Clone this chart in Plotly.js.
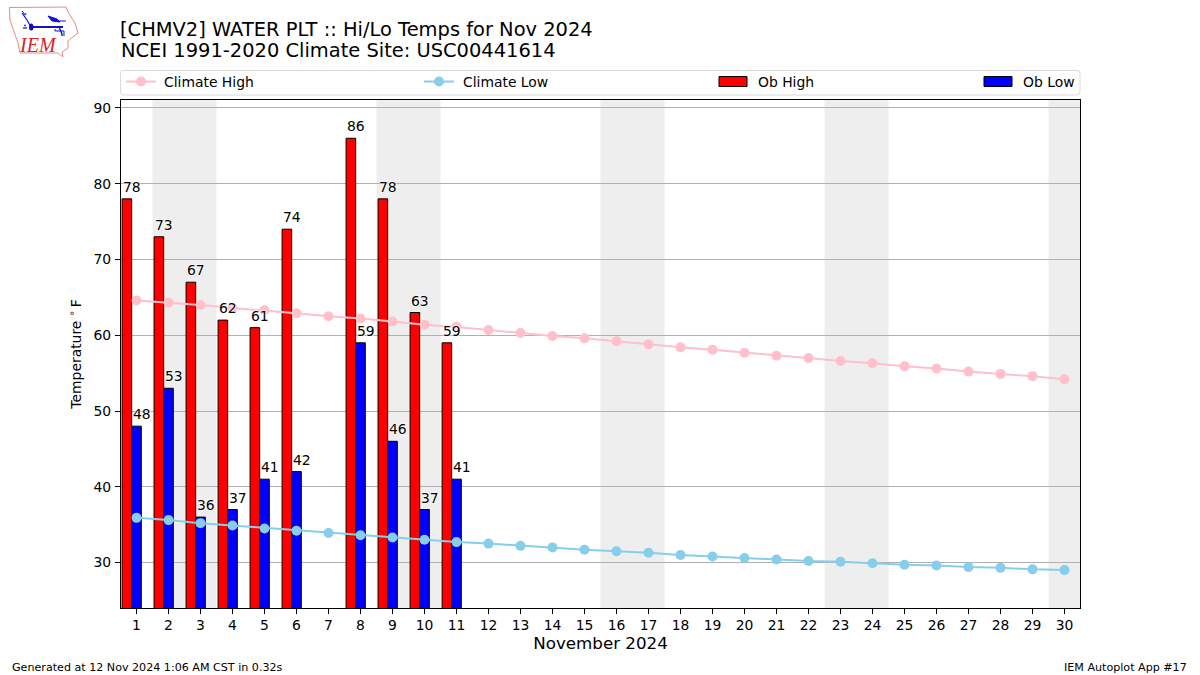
<!DOCTYPE html>
<html>
<head>
<meta charset="utf-8">
<script src="https://cdn.plot.ly/plotly-3.0.1.min.js"></script>
<style>html,body{margin:0;padding:0;background:#fff}#chart{width:1200px;height:675px}</style>
</head>
<body>
<div id="chart"></div>
<script>
var days = [1,2,3,4,5,6,7,8,9,10,11,12,13,14,15,16,17,18,19,20,21,22,23,24,25,26,27,28,29,30];
var obHigh = [78,73,67,62,61,74,null,86,78,63,59];
var obLow = [48,53,36,37,41,42,null,59,46,37,41];
var climateHigh = [64.6,64.3,64.0,63.6,63.3,62.9,62.5,62.2,61.8,61.4,61.1,60.7,60.3,59.9,59.6,59.2,58.8,58.4,58.1,57.7,57.3,57.0,56.6,56.3,55.9,55.6,55.2,54.9,54.6,54.2];
var climateLow = [35.9,35.6,35.2,34.9,34.5,34.2,33.9,33.6,33.3,33.0,32.7,32.5,32.2,32.0,31.7,31.5,31.3,31.0,30.8,30.6,30.4,30.2,30.1,29.9,29.7,29.6,29.4,29.3,29.1,29.0];
var weekends = [[1.5,3.5],[8.5,10.5],[15.5,17.5],[22.5,24.5],[29.5,30.5]];
var yTicks = [30,40,50,60,70,80,90];
var titleLine1 = "[CHMV2] WATER PLT :: Hi/Lo Temps for Nov 2024";
var titleLine2 = "NCEI 1991-2020 Climate Site: USC00441614";

var FONT = "DejaVu Sans, sans-serif";
var W = 1200, H = 675, L = 121, R = 1080, T = 100, B = 608;
function px(x){ return (x - L) / (R - L); }
function py(y){ return (B - y) / (B - T); }
function pathOf(pts, close){
  return pts.map(function(p,i){ return (i ? "L" : "M") + px(p[0]).toFixed(5) + "," + py(p[1]).toFixed(5); }).join(" ") + (close ? " Z" : "");
}
function paperLine(pts, color, width, close, fill){
  return {type:"path", xref:"paper", yref:"paper", path:pathOf(pts, close), layer:"above",
          line:{color:color, width:width}, fillcolor: fill || "rgba(0,0,0,0)"};
}
function arcBox(x0,y0,x1,y1,r){
  var f = function(x,y){ return px(x).toFixed(5)+","+py(y).toFixed(5); };
  return "M"+f(x0+r,y0)+" L"+f(x1-r,y0)+" Q"+f(x1,y0)+" "+f(x1,y0+r)+" L"+f(x1,y1-r)+" Q"+f(x1,y1)+" "+f(x1-r,y1)+
         " L"+f(x0+r,y1)+" Q"+f(x0,y1)+" "+f(x0,y1-r)+" L"+f(x0,y0+r)+" Q"+f(x0,y0)+" "+f(x0+r,y0)+" Z";
}

var barWidth = 0.3, highOffset = -0.45, lowOffset = -0.15;
function edge(){ return {color:"#000", width:1}; }

var traces = [
  {type:"bar", name:"Ob High", x:days.slice(0,obHigh.length), y:obHigh, width:barWidth, offset:highOffset,
   marker:{color:"#ff0000", line:edge()}, legend:"legend3", hoverinfo:"x+y"},
  {type:"bar", name:"Ob Low", x:days.slice(0,obLow.length), y:obLow, width:barWidth, offset:lowOffset,
   marker:{color:"#0000ff", line:edge()}, legend:"legend4", hoverinfo:"x+y"},
  {type:"scatter", mode:"lines+markers", name:"Climate High", x:days, y:climateHigh,
   line:{color:"#ffc0cb", width:2}, marker:{color:"#ffc0cb", size:10}, legend:"legend"},
  {type:"scatter", mode:"lines+markers", name:"Climate Low", x:days, y:climateLow,
   line:{color:"#87ceeb", width:2}, marker:{color:"#87ceeb", size:10}, legend:"legend2"}
];

function barLabel(day, value, off){
  return {xref:"x", yref:"y", x:day+off, y:value, text:String(value), showarrow:false, xanchor:"left", yanchor:"bottom",
          yshift:2, xshift:-1, font:{family:FONT, size:13.9, color:"#000", shadow:"0 0 2px #fff, 0 0 2px #fff, 0 0 2px #fff"}};
}
var annotations = [];
obHigh.forEach(function(v,i){ if(v!==null) annotations.push(barLabel(days[i], v, highOffset)); });
obLow.forEach(function(v,i){ if(v!==null) annotations.push(barLabel(days[i], v, lowOffset)); });
function pageText(x,y,text,size,anchor,color,extra){
  var a = {xref:"paper", yref:"paper", x:px(x), y:py(y), text:text, showarrow:false, xanchor:anchor, yanchor:"middle",
           font:{family:FONT, size:size, color:color||"#000"}, borderpad:0};
  if(extra) for(var k in extra) a[k]=extra[k];
  return a;
}
annotations.push(pageText(119.5,51,titleLine2,19.44,"left"));
annotations.push(pageText(11,667,"Generated at 12 Nov 2024 1:06 AM CST in 0.32s",11.12,"left"));
annotations.push(pageText(1188,667,"IEM Autoplot App #17",11.12,"right"));
annotations.push({xref:"paper", yref:"paper", x:px(37.5), y:py(45.5), text:"<i>IEM</i>", showarrow:false, xanchor:"center", yanchor:"middle",
                  font:{family:"Liberation Serif, serif", size:20, color:"#d8232a"}, borderpad:0});

var shapes = weekends.map(function(w){
  return {type:"rect", xref:"x", yref:"paper", x0:w[0], x1:w[1], y0:0, y1:1, layer:"below", fillcolor:"#eeeeee", line:{width:0}};
});
// legend frame
shapes.push({type:"path", xref:"paper", yref:"paper", path:arcBox(120.5,70.5,1080,95,3), layer:"above", line:{color:"#d9d9d9", width:1}, fillcolor:"rgba(255,255,255,0)"});
// logo
shapes.push(paperLine([[9.5,7.5],[66,7],[68,12],[75,23],[78,33],[68,41],[68,48],[62,52],[63,57],[58,53],[20,53],[18,43],[10,20]],"#e58a8a",1,true));
shapes.push(paperLine([[31,27],[63,27]],"#1212d0",2,false));
shapes.push(paperLine([[31,27],[27,20],[22,13]],"#1212d0",1.2,false));
shapes.push(paperLine([[22,11],[25,15],[26,13]],"#1212d0",1,false));
shapes.push(paperLine([[48,16],[57,19],[60,22],[52,21]],"#1212d0",1,true,"#1212d0"));
shapes.push(paperLine([[56,21],[66,21]],"#1212d0",1,false));
shapes.push(paperLine([[59,27],[62,34],[62,36]],"#1212d0",1.4,false));
shapes.push(paperLine([[55,29],[55,31],[64,31],[64,36]],"#1212d0",1,false));
shapes.push({type:"circle", xref:"paper", yref:"paper", x0:px(29), x1:px(33.5), y0:py(30.5), y1:py(23.5), layer:"above", fillcolor:"#0b0bc8", line:{width:0}});
[[24,28],[26,28],[25,25.5]].forEach(function(p){
  shapes.push({type:"circle", xref:"paper", yref:"paper", x0:px(p[0]-1), x1:px(p[0]+1), y0:py(p[1]+1), y1:py(p[1]-1), layer:"above", fillcolor:"#3a3ac8", line:{width:0}});
});

function legendAt(x){
  return {x:px(x), xanchor:"left", y:py(82), yanchor:"middle", orientation:"v", bgcolor:"rgba(0,0,0,0)", borderwidth:0,
          font:{family:FONT, size:13.9, color:"#000"}, itemclick:false, itemdoubleclick:false};
}

var layout = {
  width:W, height:H, paper_bgcolor:"#fff", plot_bgcolor:"#fff", showlegend:true,
  margin:{l:L, r:W-R, t:T, b:H-B, pad:0, autoexpand:false},
  barmode:"overlay", font:{family:FONT, size:13.9, color:"#000"},
  title:{text:titleLine1, xref:"container", x:120/W, xanchor:"left", yref:"container", y:1-29/H, yanchor:"middle", pad:{t:0,b:0,l:0,r:0}, font:{family:FONT, size:19.44, color:"#000"}},
  xaxis:{range:[0.516,30.484], tickmode:"array", tickvals:days, ticktext:days.map(String), showgrid:false, zeroline:false,
         showline:true, mirror:true, linecolor:"#000", linewidth:1, ticks:"outside", ticklen:5, tickwidth:1, tickcolor:"#000", ticklabelstandoff:-1,
         tickfont:{family:FONT, size:13.9}, tickangle:0, title:{text:"November 2024", font:{family:FONT, size:16.7}, standoff:4}, automargin:false},
  yaxis:{range:[24,91.05], tickmode:"array", tickvals:yTicks, ticktext:yTicks.map(String), showgrid:true, gridcolor:"#b0b0b0", gridwidth:1, zeroline:false,
         showline:true, mirror:true, linecolor:"#000", linewidth:1, ticks:"outside", ticklen:5, tickwidth:1, tickcolor:"#000", ticklabelstandoff:1,
         tickfont:{family:FONT, size:13.9}, title:{text:"Temperature <sup>∘</sup>\u2009F", font:{family:FONT, size:13.9}, standoff:8}, automargin:false},
  legend:legendAt(121), legend2:legendAt(419), legend3:legendAt(713), legend4:legendAt(978),
  shapes:shapes, annotations:annotations
};

Plotly.newPlot("chart", traces, layout, {displayModeBar:false, responsive:false}).then(function(gd){
  gd.querySelectorAll('g.legendpoints path[d="M6,6H-6V-6H6Z"]').forEach(function(p){ p.setAttribute("d","M14,5H-14V-5H14Z"); });
  var textX = {legend2text:"44", legend3text:"45", legend4text:"45"};
  gd.querySelectorAll('g.infolayer text[class^="legend"]').forEach(function(t){
    t.setAttribute("x", textX[t.getAttribute("class").split(" ")[0]] || "43");
  });
});
</script>
</body>
</html>
